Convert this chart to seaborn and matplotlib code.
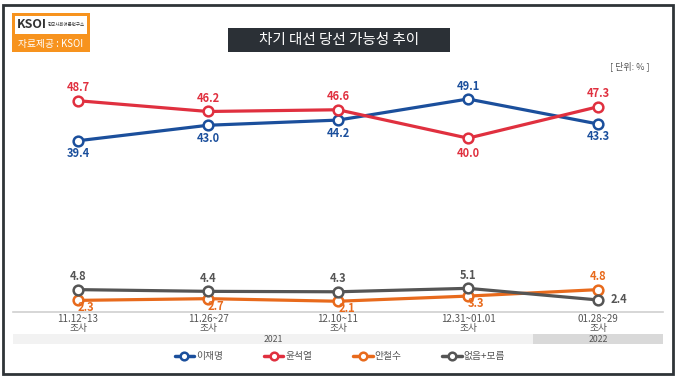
import matplotlib
matplotlib.use("Agg")
import matplotlib.pyplot as plt
import matplotlib.patches as mpatches
from matplotlib.lines import Line2D
import seaborn as sns
import pandas as pd

sns.set_style("white")
plt.rcParams['font.family'] = ['Noto Sans CJK KR', 'DejaVu Sans']

periods = ["11.12~13\n조사", "11.26~27\n조사", "12.10~11\n조사", "12.31~01.01\n조사", "01.28~29\n조사"]
series_names = ["이재명", "윤석열", "안철수", "없음+모름"]
lee = [39.4, 43.0, 44.2, 49.1, 43.3]
yoon = [48.7, 46.2, 46.6, 40.0, 47.3]
ahn = [2.3, 2.7, 2.1, 3.3, 4.8]
none_ = [4.8, 4.4, 4.3, 5.1, 2.4]
years = ["2021", "2022"]

colors = {"이재명": "#1b4f9c", "윤석열": "#e0303f", "안철수": "#e86a1c", "없음+모름": "#555555"}
values = {"이재명": lee, "윤석열": yoon, "안철수": ahn, "없음+모름": none_}

rows = []
for name in series_names:
    for i, v in enumerate(values[name]):
        rows.append({"x": i, "value": v, "series": name})
df = pd.DataFrame(rows)

W, H = 680, 382
fig = plt.figure(figsize=(W / 100, H / 100), dpi=100)
fig.patch.set_facecolor("white")

# axes: x 13..663 px, y 62..312 px
ax = fig.add_axes([13 / W, 1 - 312 / H, 650 / W, 250 / H])
ax.set_facecolor("none")

sns.lineplot(data=df, x="x", y="value", hue="series", hue_order=series_names,
             palette=colors, ax=ax, linewidth=2.3, marker="o", markersize=7,
             markerfacecolor="white", markeredgewidth=1.8, legend=False, zorder=3)
for line in ax.lines:
    line.set_markeredgecolor(line.get_color())

ax.set_xlim(-0.5, 4.5)
ax.set_ylim(-0.4, 57.7)
ax.set_xlabel("")
ax.set_ylabel("")
ax.set_yticks([])
ax.set_xticks(range(5))
ax.set_xticklabels(periods, fontsize=7, color="#555555", linespacing=0.9)
ax.set_xticks([0.5, 1.5, 2.5, 3.5, -0.5, 4.5], minor=True)
ax.tick_params(axis="x", which="major", length=0, pad=1.5)
ax.tick_params(axis="x", which="minor", length=5, color="#cccccc", width=1)
for s in ["top", "left", "right"]:
    ax.spines[s].set_visible(False)
ax.spines["bottom"].set_color("#d0d0d0")
ax.spines["bottom"].set_linewidth(1.2)

# data labels: (dx px, dy px)
fs = 8
lab = {
    "이재명": [(0, -13), (0, -13), (0, -13), (0, 13), (0, -13)],
    "윤석열": [(0, 13), (0, 13), (0, 13), (0, -15), (0, 13)],
    "안철수": [(8, -7.5), (8, -7.5), (9, -7.5), (8, -7.5), (0, 13)],
    "없음+모름": [(0, 13), (0, 13), (0, 13), (0, 13), (21, 0)],
}
for name in series_names:
    for i, v in enumerate(values[name]):
        dx, dy = lab[name][i]
        ax.annotate(f"{v:.1f}", (i, v), xytext=(dx * 0.72, dy * 0.72), textcoords="offset points",
                    ha="center", va="center", fontsize=fs, fontweight="bold",
                    color=colors[name], zorder=4)

# year bands
tr = ax.get_xaxis_transform()
y0 = -(344 - 312) / 250
hgt = (344 - 334) / 250
ax.add_patch(mpatches.Rectangle((-0.5, y0), 4, hgt, transform=tr, clip_on=False,
                                facecolor="#f2f2f2", edgecolor="none"))
ax.add_patch(mpatches.Rectangle((3.5, y0), 1, hgt, transform=tr, clip_on=False,
                                facecolor="#d9d9d9", edgecolor="none"))
ax.text(1.5, y0 + hgt / 2, years[0], transform=tr, ha="center", va="center",
        fontsize=6.3, color="#555555")
ax.text(4.0, y0 + hgt / 2, years[1], transform=tr, ha="center", va="center",
        fontsize=6.3, color="#555555")

# legend
handles = [Line2D([0], [0], color=colors[n], lw=2.5, marker="o", markersize=5.5,
                  markerfacecolor="white", markeredgecolor=colors[n], markeredgewidth=1.8)
           for n in series_names]
fig.legend(handles, series_names, loc="center", bbox_to_anchor=(0.5, 1 - 356 / H), ncol=4,
           frameon=False, fontsize=7, handlelength=2.0, handletextpad=0.2,
           columnspacing=4.2, labelcolor="#555555")

# outer frame
fig.add_artist(mpatches.Rectangle((3 / W, 1 - 374 / H), 670 / W, 369 / H, transform=fig.transFigure,
                                  fill=False, edgecolor="#2f3438", linewidth=2.0))

# title box
fig.add_artist(mpatches.Rectangle((228 / W, 1 - 52 / H), 222 / W, 24 / H, transform=fig.transFigure,
                                  facecolor="#2b3036", edgecolor="none"))
fig.text(339 / W, 1 - 40 / H, "차기 대선 당선 가능성 추이", ha="center", va="center",
         fontsize=10.5, color="white")
fig.text(650 / W, 1 - 66 / H, "[ 단위: % ]", ha="right", va="center", fontsize=6.5, color="#555555")

# logo
fig.add_artist(mpatches.Rectangle((12 / W, 1 - 52 / H), 78 / W, 39 / H, transform=fig.transFigure,
                                  facecolor="#f7931e", edgecolor="none"))
fig.add_artist(mpatches.Rectangle((15 / W, 1 - 34 / H), 72 / W, 18 / H, transform=fig.transFigure,
                                  facecolor="white", edgecolor="none"))
fig.text(17 / W, 1 - 25 / H, "KSOI", ha="left", va="center", fontsize=9, fontweight="bold",
         color="#333333")
fig.text(48 / W, 1 - 25 / H, "한국사회여론연구소", ha="left", va="center", fontsize=3.2, color="#333333")
fig.text(51 / W, 1 - 44 / H, "자료제공 : KSOI", ha="center", va="center", fontsize=7, color="white")

fig.savefig("out.png", dpi=100, facecolor="white")
